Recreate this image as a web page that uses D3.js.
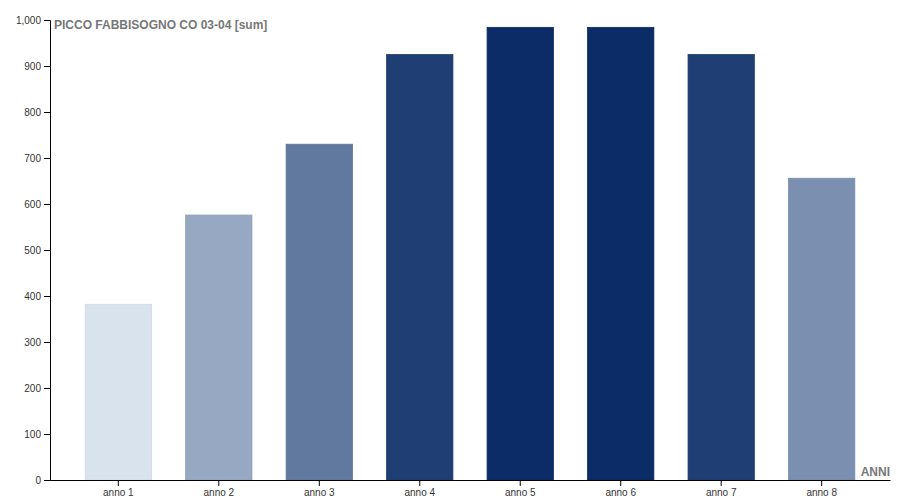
<!DOCTYPE html>
<html>
<head>
<meta charset="utf-8">
<script src="https://cdn.jsdelivr.net/npm/d3@7"></script>
<style>
  body { margin: 0; background: #fff; }
  svg { font-family: "Liberation Sans", Arial, sans-serif; }
  .axis text { font-size: 10px; fill: #333; }
  .axis path, .axis line { stroke: #000; }
  .chart-title, .axis-label { font-size: 12px; font-weight: bold; fill: #777; }
</style>
</head>
<body>
<div id="chart"></div>
<script>
// Data
const years = ["anno 1", "anno 2", "anno 3", "anno 4", "anno 5", "anno 6", "anno 7", "anno 8"];
const values = [382, 576, 730, 925, 984, 984, 925, 656];
const yTicks = [0, 100, 200, 300, 400, 500, 600, 700, 800, 900, 1000];

const width = 900;
const height = 500;
const margin = { top: 20, right: 10, bottom: 20, left: 50 };

const svg = d3.select("#chart")
  .append("svg")
  .attr("width", width)
  .attr("height", height);

// Scales
const xScale = d3.scaleBand()
  .domain(years)
  .range([margin.left, width - margin.right])
  .paddingInner(0.34)
  .paddingOuter(0.35);

const yScale = d3.scaleLinear()
  .domain([0, 1000])
  .range([height - margin.bottom, margin.top]);

// colour follows the value, light to dark navy
const color = d3.scaleLinear()
  .domain([d3.min(values), d3.max(values)])
  .range(["#d8e3ee", "#0b2c66"]);

// Bars
svg.selectAll(".bar")
  .data(years)
  .enter()
  .append("rect")
  .attr("class", "bar")
  .attr("x", d => xScale(d))
  .attr("y", (d, i) => yScale(values[i]))
  .attr("width", xScale.bandwidth())
  .attr("height", (d, i) => yScale(0) - yScale(values[i]))
  .attr("fill", (d, i) => color(values[i]))
  .attr("stroke", (d, i) => d3.color(color(values[i])).darker(0.12))
  .attr("stroke-width", 0.8);

// Axes
svg.append("g")
  .attr("class", "axis")
  .attr("transform", `translate(0, ${height - margin.bottom})`)
  .call(d3.axisBottom(xScale).tickSizeOuter(0));

svg.append("g")
  .attr("class", "axis")
  .attr("transform", `translate(${margin.left}, 0)`)
  .call(d3.axisLeft(yScale).tickValues(yTicks).tickFormat(d3.format(",")));

// Title
svg.append("text")
  .attr("class", "chart-title")
  .attr("x", margin.left + 4)
  .attr("y", 29)
  .text("PICCO FABBISOGNO CO 03-04 [sum]");

// X axis label
svg.append("text")
  .attr("class", "axis-label")
  .attr("x", width - margin.right)
  .attr("y", height - margin.bottom - 4)
  .attr("text-anchor", "end")
  .text("ANNI");
</script>
</body>
</html>
